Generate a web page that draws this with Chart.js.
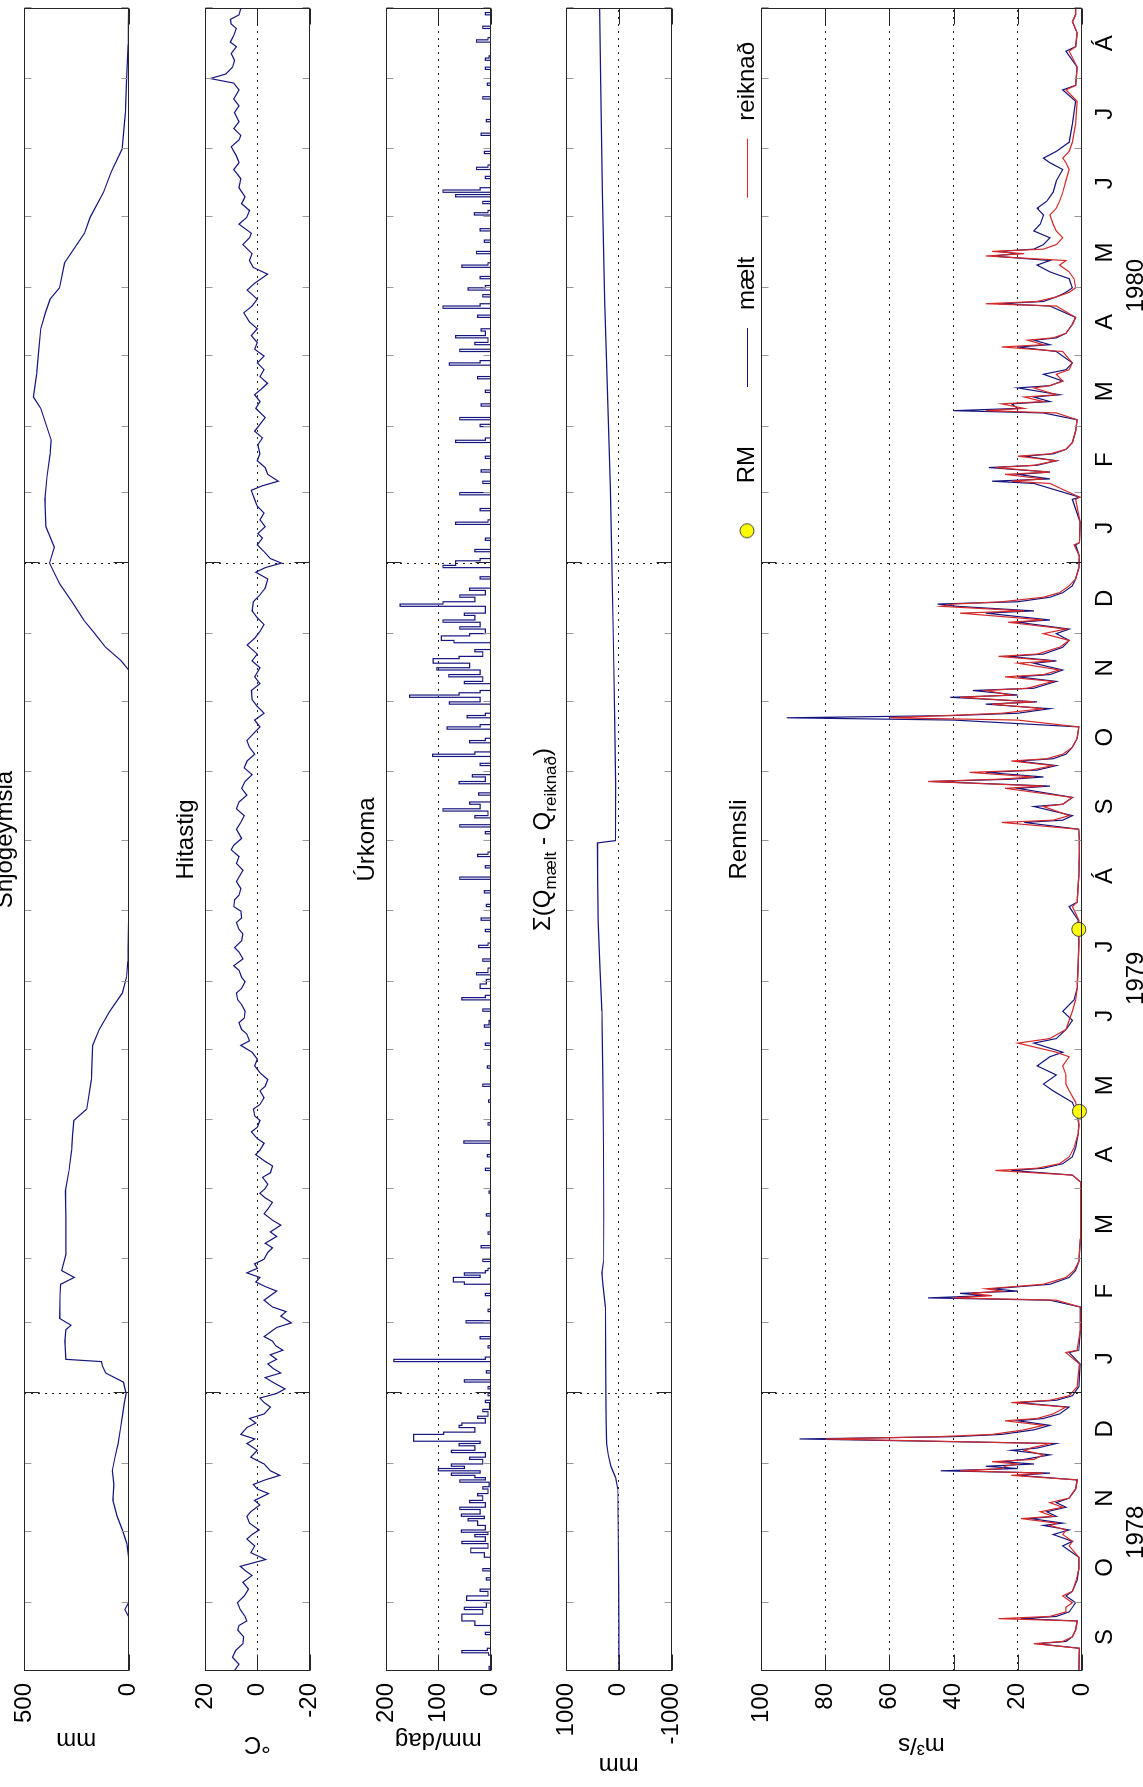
<!DOCTYPE html>
<html>
<head>
<meta charset="utf-8">
<title>Snjógeymsla, hitastig, úrkoma og rennsli</title>
<script src="https://cdn.jsdelivr.net/npm/chart.js@4.4.1/dist/chart.umd.min.js"></script>
<style>
  html, body { margin: 0; padding: 0; background: #fff; }
  body { width: 1143px; height: 1787px; position: relative; overflow: hidden; }
  /* the figure is laid out as a landscape MATLAB figure, then turned a quarter left */
  #fig { position: absolute; left: 0; top: 0; width: 1787px; height: 1143px;
         transform-origin: 0 0; transform: translateY(1787px) rotate(-90deg); }
  #fig canvas { position: absolute; left: 0; }
</style>
</head>
<body>
<div id="fig">
  <canvas id="snow" width="1787" height="165" style="top:-10px"></canvas>
  <canvas id="temp" width="1787" height="165" style="top:171px"></canvas>
  <canvas id="rain" width="1787" height="165" style="top:352px"></canvas>
  <canvas id="sum" width="1787" height="166" style="top:532px"></canvas>
  <canvas id="flow" width="1787" height="442" style="top:701px"></canvas>
</div>
<script>
// ---- time axis (days since 1 Sep 1978) ----
const monthLetters = ['S','O','N','D','J','F','M','A','M','J','J','Á','S','O','N','D','J','F','M','A','M','J','J','Á'];
const yearLabels = ['1978', '1979', '1980'];

// ---- Snjógeymsla (mm) ----
const snowDay = [0, 24, 27, 30, 50, 56, 62, 68, 75, 82,
  88, 94, 100, 106, 112, 118, 122, 127, 131, 134,
  136, 137, 145, 150, 152, 155, 165, 170, 173, 176,
  183, 200, 211, 220, 229, 236, 242, 247, 260, 275,
  282, 290, 298, 305, 312, 330, 400, 440, 444, 450,
  457, 462, 470, 478, 487, 494, 503, 515, 525, 535,
  541, 548, 555, 560, 570, 580, 590, 597, 603, 608,
  619, 632, 639, 650, 659, 669, 685, 700, 715, 731];
const snowMm = [0, 0, 18, 0, 0, 8, 30, 55, 75, 70,
  78, 65, 50, 40, 30, 20, 12, 25, 110, 125,
  130, 300, 305, 300, 275, 330, 328, 325, 260, 320,
  300, 300, 302, 285, 272, 268, 262, 200, 178, 172,
  140, 90, 30, 10, 3, 0, 0, 0, 35, 110,
  170, 215, 270, 330, 378, 355, 395, 400, 390, 375,
  370, 395, 420, 455, 440, 430, 420, 398, 375, 330,
  306, 211, 184, 120, 83, 31, 15, 9, 2, 0];

// ---- Hitastig (°C) ----
const tempDay = [0, 3, 6, 9, 12, 15, 18, 20, 22, 24,
  27, 30, 33, 36, 39, 42, 44, 46, 49, 52,
  55, 58, 60, 62, 65, 68, 70, 73, 75, 78,
  80, 82, 84, 86, 88, 91, 94, 97, 100, 102,
  104, 107, 109, 111, 113, 116, 118, 120, 122, 124,
  127, 129, 131, 133, 135, 137, 139, 141, 143, 145,
  147, 149, 151, 153, 156, 158, 160, 163, 165, 167,
  169, 171, 173, 175, 177, 179, 181, 184, 186, 188,
  191, 193, 196, 198, 201, 203, 206, 208, 210, 212,
  214, 217, 219, 222, 224, 227, 229, 232, 234, 237,
  239, 242, 244, 247, 249, 252, 255, 257, 260, 263,
  266, 269, 272, 275, 277, 280, 282, 285, 287, 290,
  293, 295, 298, 300, 303, 305, 308, 310, 313, 316,
  318, 321, 324, 326, 329, 331, 334, 336, 339, 341,
  344, 347, 349, 352, 355, 358, 361, 363, 366, 370,
  373, 376, 379, 382, 385, 388, 391, 394, 397, 400,
  403, 406, 409, 412, 415, 418, 421, 424, 427, 431,
  434, 437, 441, 444, 447, 451, 454, 457, 460, 463,
  466, 470, 473, 476, 480, 483, 485, 487, 489, 492,
  495, 498, 500, 503, 506, 509, 512, 515, 519, 521,
  523, 526, 529, 532, 535, 539, 542, 545, 548, 551,
  555, 558, 561, 564, 566, 569, 572, 575, 578, 581,
  584, 587, 590, 593, 597, 600, 603, 607, 610, 614,
  617, 620, 623, 627, 630, 632, 636, 639, 642, 645,
  648, 652, 656, 660, 663, 666, 670, 673, 675, 678,
  681, 685, 688, 691, 695, 698, 700, 702, 705, 708,
  711, 714, 716, 719, 722, 724, 726, 728, 731];
const tempC = [8.8, 7, 9.5, 8.3, 5.5, 5.2, 7.5, 7, 4, 4.7,
  6.5, 7.6, 5, 3.4, 5.5, 2, 4.5, 6.5, -3.2, 2.5,
  1, 4, 2, -0.7, 3, 4, 2.5, -1, 1, -4.3,
  0, 1.5, -3, -8.6, -5, -2.6, 2.5, 0, 4, 1,
  6.3, 4, 0.6, 3, -2.6, -5, -2.6, -1, -7.4, -10.6,
  -5.8, -3, -9, -6, -4, -7.4, -5, -9.8, -7, -5.8,
  -2.6, -5, -7.4, -13, -9, -11, -5.8, -2.6, -5, -7.4,
  -3, 0.6, -1, 4, 0, 1, -2.6, -4, -5.8, -3,
  -7.4, -5, -9, -6, -2.6, -4, -5.8, -3, -1, -3,
  -4, -2, -5, -5.8, -3, 0.6, -1, -2.6, 0, 2.3,
  0, -1, 1, 1.5, -1, -2.6, -1, -3, -4, -1,
  1, 0, 2, 6.3, 3, 4, 6, 7, 5, 4.7,
  6, 7.5, 8, 6, 4.7, 6, 7, 9, 5.5, 7,
  8.7, 6, 5.5, 7, 8, 6, 6.3, 9, 8.7, 7,
  6.3, 8, 7, 5.5, 8, 7, 10, 9, 6, 8,
  6.3, 5, 8, 7, 4, 6, 4.7, 2, 5, 3.9,
  1, 3, 4, 1.5, -1, 1, -2.6, 0, 2, 2.3,
  -1, 1, -1, 2, 0, 3.9, 1, -1, -2.6, 0,
  2, 1.5, -1, -3, -4, 0.6, -3, -9.2, -5, -2.6,
  0, -2, -0.2, -3, -1, -2.6, 0, 1, 2.3, -2,
  -8, -4, -3, 0, -1, -0.2, -2, 1, -1, -3,
  0.6, -1, 1, -2, -3.9, -1, -2.6, 0, -2.6, 1,
  0, 2.3, 0, 3, 5.2, 2, 0, 3.9, 1, -3.9,
  1.6, 3, 2, 5.5, 3, 2.3, 7, 4, 3, 6,
  4.7, 7, 6.3, 9, 7, 8, 10, 7, 6.3, 9,
  7, 8.7, 7, 9, 7, 9, 18, 12, 9.5, 8.7,
  10, 8, 10.3, 9, 8, 10, 10.3, 7, 6.3];

// ---- Úrkoma (mm/dag), value holds from its day to the next listed day ----
const rainDay = [0, 2, 7, 8, 9, 10, 16, 17, 20, 22,
  25, 27, 28, 30, 31, 33, 35, 36, 40, 41,
  44, 45, 50, 52, 54, 56, 57, 59, 60, 61,
  62, 64, 66, 67, 68, 69, 71, 72, 74, 75,
  77, 78, 80, 81, 83, 84, 85, 86, 87, 88,
  89, 90, 91, 93, 94, 96, 97, 99, 100, 101,
  104, 105, 107, 108, 109, 111, 112, 114, 115, 118,
  119, 121, 122, 124, 125, 127, 128, 131, 132, 136,
  137, 138, 142, 143, 146, 147, 153, 154, 158, 159,
  165, 166, 170, 171, 173, 174, 175, 176, 177, 180,
  181, 186, 187, 192, 193, 200, 201, 210, 211, 220,
  221, 226, 227, 232, 233, 240, 241, 250, 251, 257,
  258, 265, 266, 275, 276, 283, 284, 286, 290, 291,
  295, 296, 297, 300, 302, 304, 306, 307, 309, 312,
  313, 318, 319, 320, 325, 326, 330, 331, 336, 337,
  342, 343, 348, 349, 353, 354, 358, 359, 360, 368,
  369, 371, 372, 375, 376, 378, 379, 381, 382, 385,
  386, 390, 391, 393, 394, 398, 399, 402, 403, 404,
  408, 409, 410, 414, 415, 416, 419, 420, 421, 425,
  426, 428, 429, 430, 431, 434, 435, 437, 438, 440,
  441, 443, 445, 446, 448, 449, 452, 453, 455, 456,
  458, 459, 461, 462, 464, 465, 468, 469, 470, 472,
  473, 475, 476, 480, 481, 485, 486, 488, 489, 492,
  493, 497, 498, 504, 505, 506, 510, 511, 517, 518,
  522, 523, 527, 528, 533, 534, 540, 541, 542, 547,
  548, 550, 551, 556, 557, 562, 563, 568, 569, 574,
  575, 576, 580, 581, 583, 584, 586, 587, 589, 590,
  595, 596, 599, 600, 601, 604, 605, 607, 608, 609,
  612, 613, 617, 618, 619, 623, 624, 628, 629, 633,
  634, 640, 641, 642, 645, 646, 648, 649, 650, 651,
  652, 656, 657, 660, 661, 662, 667, 668, 675, 676,
  681, 682, 691, 692, 697, 698, 704, 705, 708, 709,
  710, 716, 717, 718, 722, 723, 728, 729, 731];
const rainMm = [3, 0, 4, 55, 6, 0, 10, 0, 30, 55,
  15, 50, 8, 0, 46, 5, 20, 0, 8, 0,
  15, 0, 12, 38, 5, 55, 10, 30, 5, 56,
  10, 25, 43, 12, 56, 20, 59, 10, 40, 15,
  25, 5, 15, 3, 59, 10, 30, 75, 20, 100,
  50, 75, 15, 40, 10, 75, 30, 60, 20, 147,
  90, 30, 60, 55, 10, 25, 5, 15, 2, 10,
  0, 5, 0, 5, 0, 50, 0, 8, 0, 185,
  10, 0, 5, 0, 20, 0, 47, 0, 5, 0,
  10, 0, 50, 71, 20, 50, 10, 5, 0, 15,
  0, 18, 0, 5, 0, 8, 0, 3, 0, 10,
  0, 6, 0, 51, 0, 5, 0, 4, 0, 15,
  0, 6, 0, 10, 0, 12, 3, 0, 15, 0,
  55, 10, 0, 20, 8, 0, 27, 5, 0, 15,
  0, 23, 5, 0, 10, 0, 18, 0, 8, 0,
  12, 0, 59, 0, 10, 0, 25, 5, 0, 10,
  0, 59, 0, 30, 5, 91, 20, 40, 0, 23,
  0, 60, 10, 35, 0, 20, 0, 111, 30, 0,
  40, 10, 0, 83, 20, 0, 45, 10, 0, 79,
  20, 155, 60, 20, 0, 50, 15, 80, 20, 103,
  40, 110, 60, 15, 30, 0, 70, 94, 40, 10,
  59, 20, 91, 30, 50, 10, 173, 91, 30, 59,
  10, 40, 0, 20, 0, 91, 67, 20, 0, 30,
  0, 10, 0, 67, 5, 0, 20, 0, 59, 0,
  15, 0, 18, 0, 10, 0, 67, 10, 0, 20,
  0, 59, 0, 18, 0, 10, 0, 25, 0, 79,
  20, 0, 59, 0, 30, 5, 67, 10, 18, 0,
  25, 0, 91, 20, 0, 15, 0, 43, 10, 0,
  20, 0, 55, 5, 0, 27, 0, 12, 0, 20,
  0, 31, 5, 0, 15, 0, 67, 0, 91, 20,
  0, 10, 0, 27, 5, 0, 12, 0, 18, 0,
  8, 0, 15, 0, 6, 0, 10, 0, 10, 3,
  0, 27, 5, 0, 15, 0, 10, 0, 0];

// ---- Σ(Q mælt - Q reiknað) (mm) ----
const sumDay = [0, 20, 40, 60, 80, 85, 90, 95, 100, 110,
  122, 140, 160, 170, 175, 180, 200, 230, 260, 290,
  310, 330, 350, 364, 365, 390, 420, 450, 487, 520,
  560, 603, 650, 700, 731];
const sumMm = [0, 0, 5, 10, 20, 60, 150, 200, 230, 240,
  245, 250, 255, 300, 320, 290, 285, 290, 300, 320,
  360, 390, 400, 405, 66, 60, 80, 100, 130, 160,
  210, 270, 310, 345, 362];

// ---- Rennsli (m3/s) ----
const flowDay = [0, 10, 12, 13, 15, 18, 22, 23, 24, 26,
  28, 30, 33, 35, 40, 45, 50, 55, 57, 60,
  62, 64, 65, 67, 68, 70, 72, 74, 76, 80,
  84, 86, 87, 88, 89, 90, 91, 92, 93, 95,
  97, 98, 100, 102, 103, 104, 106, 108, 110, 111,
  113, 116, 118, 119, 121, 125, 135, 140, 141, 150,
  160, 163, 164, 165, 166, 167, 168, 170, 173, 176,
  180, 190, 205, 215, 218, 220, 221, 223, 226, 230,
  236, 240, 245, 250, 255, 258, 262, 266, 270, 272,
  276, 278, 282, 286, 290, 295, 300, 310, 320, 330,
  336, 338, 350, 360, 365, 370, 373, 374, 376, 380,
  381, 384, 388, 389, 391, 392, 393, 395, 396, 398,
  400, 401, 403, 406, 410, 415, 418, 419, 420, 421,
  423, 425, 426, 428, 429, 431, 432, 435, 437, 438,
  440, 443, 444, 446, 447, 450, 453, 456, 458, 461,
  462, 465, 466, 468, 469, 470, 472, 474, 477, 480,
  485, 490, 495, 496, 505, 515, 516, 522, 523, 524,
  526, 527, 529, 530, 532, 534, 535, 537, 540, 545,
  550, 553, 554, 555, 557, 558, 560, 561, 564, 565,
  567, 570, 572, 575, 580, 582, 583, 585, 586, 588,
  592, 595, 600, 601, 602, 604, 606, 608, 612, 615,
  618, 620, 622, 623, 624, 625, 627, 630, 633, 636,
  640, 643, 646, 650, 655, 660, 663, 665, 668, 672,
  680, 690, 695, 697, 705, 712, 714, 720, 725, 728,
  731];
const flowMaelt = [1, 0.8, 14, 5, 3, 2, 1.5, 19, 8, 4,
  3, 2, 5, 3, 1.5, 1, 1, 6, 3, 9,
  4, 12, 6, 16, 8, 11, 5, 8, 4, 2,
  1.5, 20, 10, 44, 20, 30, 15, 25, 18, 10,
  22, 14, 8, 88, 40, 25, 15, 10, 20, 12,
  7, 4, 20, 8, 3, 1, 0.6, 4, 1, 0.5,
  0.5, 10, 48, 30, 38, 20, 28, 10, 4, 2,
  1, 0.5, 0.4, 0.5, 3, 22, 12, 6, 3, 2,
  1.2, 1, 1.5, 3, 9, 12, 8, 14, 10, 6,
  15, 8, 5, 3, 6, 2.5, 1.5, 1.2, 1, 1.2,
  4, 1.5, 1, 0.8, 0.8, 1, 18, 6, 3, 15,
  6, 3, 20, 10, 47, 22, 12, 30, 14, 8,
  20, 9, 5, 3, 1.5, 1, 40, 92, 40, 20,
  10, 30, 14, 41, 20, 34, 15, 8, 20, 10,
  6, 15, 8, 23, 12, 6, 4, 8, 4, 20,
  10, 30, 15, 39, 45, 20, 10, 6, 3, 2,
  1, 0.8, 2, 0.8, 0.6, 3, 0.8, 15, 28, 10,
  20, 10, 29, 14, 8, 18, 9, 5, 3, 2,
  1.5, 12, 40, 20, 22, 10, 15, 7, 20, 10,
  6, 12, 5, 3, 8, 20, 10, 15, 8, 5,
  3, 2, 10, 26, 12, 8, 5, 3, 4, 10,
  14, 10, 28, 20, 26, 15, 12, 10, 15, 13,
  12, 14, 11, 9, 8, 6, 10, 12, 8, 4,
  3, 2, 6, 2, 1.5, 5, 2, 1.5, 3, 2,
  2];
const flowReiknad = [1, 0.8, 15, 6, 3, 2, 1.5, 26, 10, 5,
  5, 3, 6, 3, 1.8, 1, 1, 4, 3, 6,
  5, 10, 8, 19, 9, 13, 6, 10, 4, 2,
  1.5, 22, 12, 38, 25, 24, 20, 28, 15, 12,
  18, 16, 10, 80, 45, 28, 18, 12, 24, 14,
  9, 5, 22, 10, 4, 1.5, 0.8, 5, 1.5, 0.5,
  0.6, 8, 40, 28, 35, 25, 30, 12, 5, 2.5,
  1, 0.5, 0.4, 0.5, 3, 27, 14, 7, 4, 2.5,
  1.2, 1, 1.2, 2, 4, 5, 5, 6, 4, 8,
  20, 10, 5, 4, 3, 2, 1.5, 1.2, 1, 1,
  3, 1.5, 1, 0.8, 0.8, 1, 25, 9, 4, 12,
  6, 3, 24, 12, 48, 26, 15, 35, 16, 9,
  22, 11, 6, 3, 1.5, 1, 20, 60, 42, 25,
  12, 28, 15, 38, 22, 30, 17, 9, 24, 12,
  7, 20, 9, 26, 14, 7, 4, 12, 5, 23,
  12, 38, 18, 44, 40, 25, 12, 7, 4, 2,
  1, 0.8, 2.5, 0.8, 0.6, 2, 0.8, 10, 22, 12,
  24, 10, 27, 15, 8, 20, 10, 5, 3, 2,
  1.5, 8, 30, 18, 25, 12, 18, 8, 15, 10,
  6, 8, 4, 3, 6, 25, 12, 17, 9, 5,
  3, 2, 8, 30, 14, 8, 4, 2, 2.5, 4,
  7, 5, 30, 18, 28, 12, 8, 6, 8, 9,
  10, 8, 7, 6, 5, 4, 5, 6, 4, 3,
  2, 1.5, 5, 2, 1.5, 4, 2, 1.5, 3, 2,
  2];
const rmDay = [246, 326];
const rmFlow = [0.8, 1.0];

// ---- styling ----
const FONT = '"Liberation Sans", Arial, Helvetica, sans-serif';
const BLUE = '#16167f';
const RED = '#d42a2a';
const INK = '#262626';
const LINE_W = 1.2;
Chart.defaults.font.family = FONT;
Chart.defaults.font.size = 24;
Chart.defaults.color = '#000';

const t0 = Date.UTC(1978, 8, 1);
const dayOf = (y, m) => (Date.UTC(y, m, 1) - t0) / 864e5;
const monthStarts = Array.from({length: 25}, (_, i) => dayOf(1978, 8 + i));
const monthMids = monthStarts.slice(0, 24).map((d, i) => (d + monthStarts[i + 1]) / 2);
const newYears = [dayOf(1979, 0), dayOf(1980, 0)];
const END = monthStarts[24];
const yearMids = [newYears[0] / 2, (newYears[0] + newYears[1]) / 2, (newYears[1] + END) / 2];

const pts = (xs, ys) => xs.map((x, i) => ({x, y: ys[i]}));
const clear = 'rgba(0,0,0,0)';

// box and inward ticks, as MATLAB draws them
const matlabBox = {
  id: 'matlabBox',
  afterDraw(chart) {
    const {ctx, chartArea: a, scales: {x, y}} = chart;
    const L = Math.round(a.left) + 0.5, R = Math.round(a.right) - 0.5;
    const T = Math.round(a.top) + 0.5, B = Math.round(a.bottom) - 0.5;
    ctx.save();
    ctx.lineWidth = 1;
    // month ticks are short and faint, new year ticks longer
    ctx.strokeStyle = '#9a9a9a';
    ctx.beginPath();
    monthStarts.forEach(d => {
      if (newYears.includes(d)) return;
      const px = Math.round(x.getPixelForValue(d)) + 0.5;
      ctx.moveTo(px, T); ctx.lineTo(px, T + 7);
      ctx.moveTo(px, B); ctx.lineTo(px, B - 7);
    });
    ctx.stroke();
    ctx.strokeStyle = INK;
    ctx.beginPath();
    newYears.forEach(d => {
      const px = Math.round(x.getPixelForValue(d)) + 0.5;
      ctx.moveTo(px, T); ctx.lineTo(px, T + 15);
      ctx.moveTo(px, B); ctx.lineTo(px, B - 15);
    });
    y.ticks.forEach(t => {
      const py = Math.round(y.getPixelForValue(t.value)) + 0.5;
      ctx.moveTo(L, py); ctx.lineTo(L + 16, py);
      ctx.moveTo(R, py); ctx.lineTo(R - 16, py);
    });
    ctx.stroke();
    ctx.strokeRect(L, T, R - L, B - T);
    ctx.restore();
  }
};

// panel titles, with TeX-like subscripts
const panelTitle = {
  id: 'panelTitle',
  afterDraw(chart, args, opts) {
    const parts = opts.parts || [];
    const {ctx, chartArea: a} = chart;
    const fontFor = p => (p.sub ? opts.subSize : opts.size) + 'px ' + FONT;
    ctx.save();
    ctx.fillStyle = '#000';
    ctx.textAlign = 'left';
    ctx.textBaseline = 'middle';
    let total = 0;
    parts.forEach(p => { ctx.font = fontFor(p); total += ctx.measureText(p.text).width; });
    let x = (a.left + a.right) / 2 - total / 2;
    const y = a.top - opts.gap;
    parts.forEach(p => {
      ctx.font = fontFor(p);
      ctx.fillText(p.text, x, y + (p.sub ? opts.subShift : 0));
      x += ctx.measureText(p.text).width;
    });
    ctx.restore();
  }
};

function timeScale() {
  return {
    type: 'linear', min: 0, max: END,
    afterBuildTicks: s => { s.ticks = monthStarts.map(value => ({value})); },
    ticks: {display: false},
    grid: {drawTicks: false, color: c => (c.tick && newYears.includes(c.tick.value)) ? INK : clear},
    border: {display: false, dash: [2, 5]},
    afterFit: s => { s.height = 0; }
  };
}

function valueScale(min, max, tickValues, title, titlePad) {
  return {
    type: 'linear', min, max,
    afterBuildTicks: s => { s.ticks = tickValues.map(value => ({value})); },
    ticks: {padding: 12, callback: v => String(v)},
    grid: {drawTicks: false, color: c => (c.tick && c.tick.value > min && c.tick.value < max) ? INK : clear},
    border: {display: false, dash: [2, 5]},
    title: {display: true, text: title, padding: {top: titlePad, bottom: 0}},
    afterFit: s => { s.width = 116; }
  };
}

function panel(id, cfg) {
  return new Chart(document.getElementById(id), {
    type: 'line',
    data: {datasets: cfg.datasets},
    plugins: [matlabBox, panelTitle],
    options: {
      responsive: false,
      animation: false,
      events: [],
      layout: {padding: cfg.padding || {top: 34, right: 8, bottom: 20, left: 0}},
      elements: {point: {radius: 0}, line: {borderWidth: LINE_W, tension: 0}},
      scales: cfg.scales,
      plugins: {
        legend: cfg.legend || {display: false},
        tooltip: {enabled: false},
        panelTitle: Object.assign({size: 24, subSize: 17, subShift: 8, gap: 19}, cfg.title)
      }
    }
  });
}

const blueLine = data => ({data, borderColor: BLUE, borderWidth: LINE_W, pointRadius: 0});

panel('snow', {
  datasets: [blueLine(pts(snowDay, snowMm))],
  scales: {x: timeScale(), y: valueScale(0, 500, [0, 500], 'mm', 33)},
  title: {parts: [{text: 'Snjógeymsla'}]}
});

panel('temp', {
  datasets: [blueLine(pts(tempDay, tempC))],
  scales: {x: timeScale(), y: valueScale(-20, 20, [-20, 0, 20], '°C', 29)},
  title: {parts: [{text: 'Hitastig'}]}
});

panel('rain', {
  datasets: [Object.assign(blueLine(pts(rainDay, rainMm)), {stepped: 'before'})],
  scales: {x: timeScale(), y: valueScale(0, 200, [0, 100, 200], 'mm/dag', 33)},
  title: {parts: [{text: 'Úrkoma'}]}
});

panel('sum', {
  datasets: [blueLine(pts(sumDay, sumMm))],
  scales: {x: timeScale(), y: valueScale(-1000, 1000, [-1000, 0, 1000], 'mm', 8)},
  title: {parts: [{text: 'Σ(Q'}, {text: 'mælt', sub: true}, {text: ' - Q'}, {text: 'reiknað', sub: true}, {text: ')'}], gap: 23}
});

// legend samples: a line (or the marker) in the middle of a wide slot
function slot(draw) {
  const c = document.createElement('canvas');
  c.width = 90; c.height = 20;
  draw(c.getContext('2d'));
  return c;
}
const lineSlot = color => slot(g => {
  g.strokeStyle = color; g.lineWidth = LINE_W;
  g.beginPath(); g.moveTo(25, 10.5); g.lineTo(84, 10.5); g.stroke();
});
const legendSlots = [
  slot(g => {
    g.fillStyle = '#ffff00'; g.strokeStyle = '#404040'; g.lineWidth = 1;
    g.beginPath(); g.arc(54.5, 10, 7, 0, Math.PI * 2); g.fill(); g.stroke();
  }),
  lineSlot(BLUE),
  lineSlot(RED)
];

panel('flow', {
  padding: {top: 0, right: 8, bottom: 0, left: 0},
  datasets: [
    {label: 'RM', data: pts(rmDay, rmFlow), showLine: false, pointRadius: 7, pointStyle: 'circle',
     pointBackgroundColor: '#ffff00', backgroundColor: '#ffff00', pointBorderColor: '#404040',
     borderColor: '#404040', pointBorderWidth: 1, clip: false, order: 0},
    Object.assign(blueLine(pts(flowDay, flowMaelt)), {label: 'mælt', order: 2}),
    {label: 'reiknað', data: pts(flowDay, flowReiknad), borderColor: RED, borderWidth: LINE_W, pointRadius: 0, order: 1}
  ],
  scales: {
    x: timeScale(),
    xm: {
      type: 'linear', position: 'bottom', min: 0, max: END,
      afterBuildTicks: s => { s.ticks = monthMids.map(value => ({value})); },
      ticks: {padding: 1, autoSkip: false, maxRotation: 0, callback: (v, i) => monthLetters[i]},
      grid: {display: false}, border: {display: false},
      afterFit: s => { s.height = 30; }
    },
    xy: {
      type: 'linear', position: 'bottom', min: 0, max: END,
      afterBuildTicks: s => { s.ticks = yearMids.map(value => ({value})); },
      ticks: {padding: 2, autoSkip: false, maxRotation: 0, callback: (v, i) => yearLabels[i]},
      grid: {display: false}, border: {display: false},
      afterFit: s => { s.height = 31; }
    },
    y: valueScale(0, 100, [0, 20, 40, 60, 80, 100], 'm³/s', 28)
  },
  title: {parts: [{text: 'Rennsli'}], gap: 22},
  legend: {
    display: true, position: 'top', align: 'end', maxHeight: 60,
    labels: {
      usePointStyle: true, pointStyleWidth: 90, padding: 34, color: '#000', font: {size: 24},
      generateLabels: chart => chart.data.datasets.map((ds, i) => ({
        text: ds.label, pointStyle: legendSlots[i], datasetIndex: i, hidden: false,
        lineWidth: 0, strokeStyle: clear, fillStyle: clear
      }))
    }
  }
});
</script>
</body>
</html>
